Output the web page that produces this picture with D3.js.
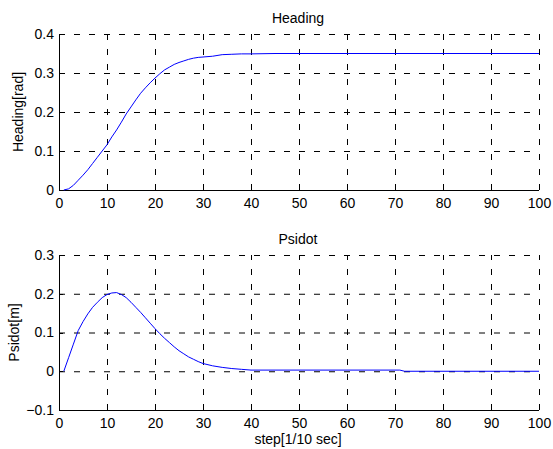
<!DOCTYPE html>
<html>
<head>
<meta charset="utf-8">
<script src="https://cdn.jsdelivr.net/npm/d3@7"></script>
<style>
  body { margin: 0; background: #fff; }
  svg { font-family: "Liberation Sans", Arial, sans-serif; }
</style>
</head>
<body>
<svg width="553" height="449"></svg>
<script>
// step values and series
var headingSteps = [1,2,3,4,5,6,7,8,9,10,11,12,13,14,15,16,17,18,19,20,21,22,23,24,25,26,27,28,29,30,32,34,36,38,40,45,100];
var headingValues = [0,0.003,0.012,0.025,0.038,0.052,0.068,0.084,0.1,0.116,0.136,0.154,0.174,0.195,0.213,0.231,0.248,0.262,0.275,0.287,0.298,0.308,0.315,0.322,0.327,0.331,0.335,0.338,0.340,0.341,0.343,0.347,0.348,0.349,0.349,0.35,0.35];

var psidotSteps = [1,2,3,4,5,6,7,8,9,10,11,12,13,14,15,16,17,18,19,20,21,22,23,24,25,26,27,28,29,30,32,34,36,38,40,50,60,71,72,100];
var psidotValues = [0,0.035,0.07,0.105,0.128,0.148,0.165,0.178,0.19,0.198,0.202,0.203,0.198,0.19,0.178,0.165,0.152,0.138,0.124,0.11,0.097,0.085,0.074,0.063,0.053,0.045,0.037,0.031,0.025,0.02,0.014,0.01,0.007,0.005,0.003,0.003,0.003,0.003,0,0];

var xTicks = [0,10,20,30,40,50,60,70,80,90,100];
var headingTicks = [0,0.1,0.2,0.3,0.4];
var psidotTicks = [-0.1,0,0.1,0.2,0.3];

var svg = d3.select("svg");
var fs = 14;

var x = d3.scaleLinear().domain([0, 100]).range([59, 539]);

function panel(top, bottom, yDomain, yTicks, steps, values, title, ylabel, ylabelX) {
	var y = d3.scaleLinear().domain(yDomain).range([bottom, top]);
	var g = svg.append("g");

	// grid (dashed, also forms the top and right edges)
	g.selectAll(".gx").data(xTicks).enter().append("line")
		.attr("x1", d => x(d) + 0.5).attr("x2", d => x(d) + 0.5)
		.attr("y1", bottom).attr("y2", top)
		.attr("stroke", "#000").attr("stroke-width", 1)
		.attr("stroke-dasharray", "6,9");
	g.selectAll(".gy").data(yTicks).enter().append("line")
		.attr("x1", 59).attr("x2", 539)
		.attr("y1", d => y(d) + 0.5).attr("y2", d => y(d) + 0.5)
		.attr("stroke", "#000").attr("stroke-width", 1)
		.attr("stroke-dasharray", "6,9");

	// axes
	var xAxis = d3.axisBottom(x).tickValues(xTicks).tickSize(-4).tickPadding(8).tickFormat(d3.format("d"));
	var yAxis = d3.axisLeft(y).tickValues(yTicks).tickSize(-4).tickPadding(5).tickFormat(d => d === 0 ? "0" : d3.format(".1f")(d));

	var gx = g.append("g").attr("transform", "translate(0," + bottom + ")").call(xAxis);
	var gy = g.append("g").attr("transform", "translate(59,0)").call(yAxis);
	[gx, gy].forEach(function (a) {
		a.select(".domain").attr("stroke", "#000").attr("shape-rendering", "crispEdges");
		a.selectAll(".tick line").attr("stroke", "#000").attr("shape-rendering", "crispEdges");
		a.selectAll("text").attr("font-size", fs).attr("fill", "#000")
			.attr("font-family", "Liberation Sans, Arial, sans-serif");
	});
	gx.select(".domain").attr("d", "M59,0H539");
	gy.select(".domain").attr("d", "M0," + bottom + "V" + top);

	// data line
	var pts = steps.map((s, i) => [s, values[i]]);
	g.append("path")
		.datum(pts)
		.attr("d", d3.line().x(d => x(d[0])).y(d => y(d[1])))
		.attr("fill", "none")
		.attr("stroke", "#0000ff")
		.attr("stroke-width", 1);

	g.append("text")
		.attr("x", 298).attr("y", top - 11)
		.attr("text-anchor", "middle")
		.attr("font-size", fs)
		.text(title);

	g.append("text")
		.attr("transform", "translate(" + ylabelX + "," + ((top + bottom) / 2) + ") rotate(-90)")
		.attr("text-anchor", "middle")
		.attr("font-size", fs)
		.text(ylabel);
}

panel(34, 190, [0, 0.4], headingTicks, headingSteps, headingValues, "Heading", "Heading[rad]", 23);
panel(255, 410, [-0.1, 0.3], psidotTicks, psidotSteps, psidotValues, "Psidot", "Psidot[m]", 19);

svg.append("text")
	.attr("x", 298).attr("y", 444)
	.attr("text-anchor", "middle")
	.attr("font-size", fs)
	.text("step[1/10 sec]");
</script>
</body>
</html>
